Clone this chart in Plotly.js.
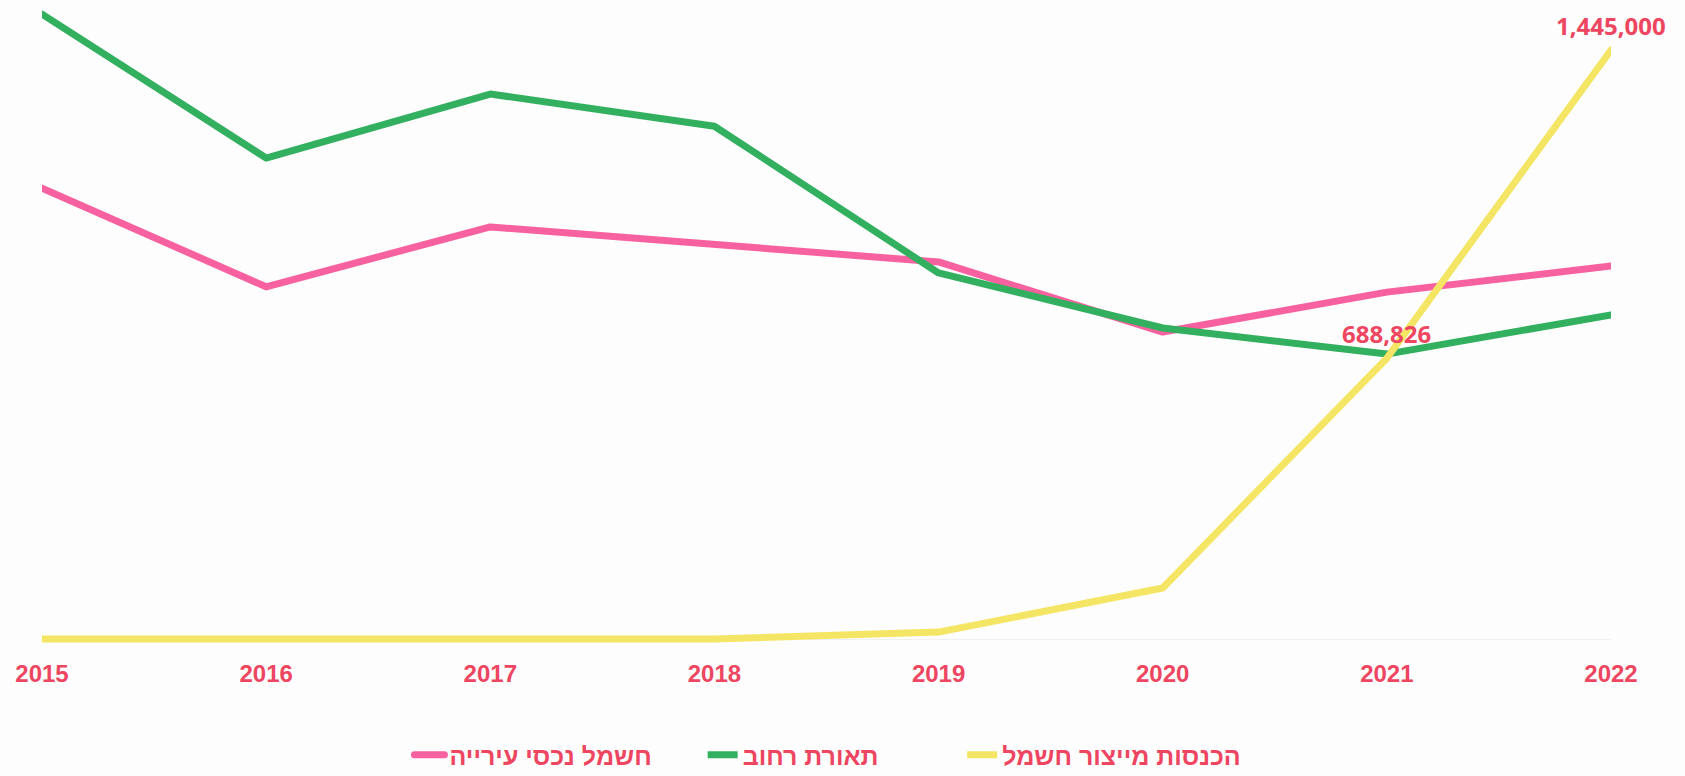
<!DOCTYPE html>
<html>
<head>
<meta charset="utf-8">
<script src="https://cdn.plot.ly/plotly-3.0.1.min.js"></script>
<style>
html,body{margin:0;padding:0;background:#fdfdfd;}
#chart{width:1685px;height:776px;}
.scatterlayer path.js-line, .legend path.js-line{stroke-linejoin:round !important;stroke-linecap:round !important;}
</style>
</head>
<body>
<div id="chart"></div>
<script>
const years = ['2015','2016','2017','2018','2019','2020','2021','2022'];
const municipalPower = [1106000, 864000, 1011000, 969000, 925000, 753000, 851000, 915000];
const streetLighting = [1533000, 1180000, 1337000, 1258000, 898000, 763000, 699000, 795000];
const generationIncome = [0, 0, 0, 0, 17000, 125000, 688826, 1445000];
const seriesNames = ['חשמל נכסי עירייה', 'תאורת רחוב', 'הכנסות מייצור חשמל'];
const labelledYears = ['2021', '2022'];

const red = '#ee4560';
const colors = ['#f7619f', '#33b05f', '#f4e664'];
const legendIds = ['legend', 'legend2', 'legend3'];
const legendX = [0.243, 0.417, 0.571];

const traces = [municipalPower, streetLighting, generationIncome].map((vals, i) => ({
  type: 'scatter',
  mode: 'lines',
  x: years,
  y: vals,
  name: seriesNames[i],
  legend: legendIds[i],
  line: {color: colors[i], width: 7, shape: 'linear'},
  hoverinfo: 'x+y'
}));

const annotations = labelledYears.map(yr => {
  const idx = years.indexOf(yr);
  return {
    x: idx, y: generationIncome[idx], xref: 'x', yref: 'y',
    text: generationIncome[idx].toLocaleString('en-US'),
    showarrow: false, yanchor: 'middle', xanchor: 'center', yshift: 25,
    font: {family: 'Open Sans', size: 24, color: red, weight: 'bold'}
  };
});

const layout = {
  width: 1685, height: 776,
  paper_bgcolor: '#fdfdfd', plot_bgcolor: '#fdfdfd',
  margin: {l: 42, r: 74, t: 0, b: 126, autoexpand: false},
  showlegend: true,
  xaxis: {
    type: 'category', range: [0, 7],
    showgrid: false, zeroline: false, showline: false, ticks: '',
    tickfont: {family: 'Liberation Sans', size: 24, color: red, weight: 700},
    ticklabelstandoff: 7
  },
  yaxis: {
    range: [-26990, 1567660],
    showgrid: false, showticklabels: false, ticks: '',
    zeroline: true, zerolinecolor: '#f0f0f0', zerolinewidth: 1, showline: false
  },
  annotations: annotations
};
legendIds.forEach((id, i) => {
  layout[id] = {
    orientation: 'h', xref: 'container', yref: 'container',
    x: legendX[i], xanchor: 'left', y: 0.027, yanchor: 'middle',
    font: {family: 'Liberation Sans', size: 25, color: red, weight: 700},
    itemwidth: 30, bgcolor: 'rgba(0,0,0,0)'
  };
});

Plotly.newPlot('chart', traces, layout, {displayModeBar: false, staticPlot: true});
</script>
</body>
</html>
